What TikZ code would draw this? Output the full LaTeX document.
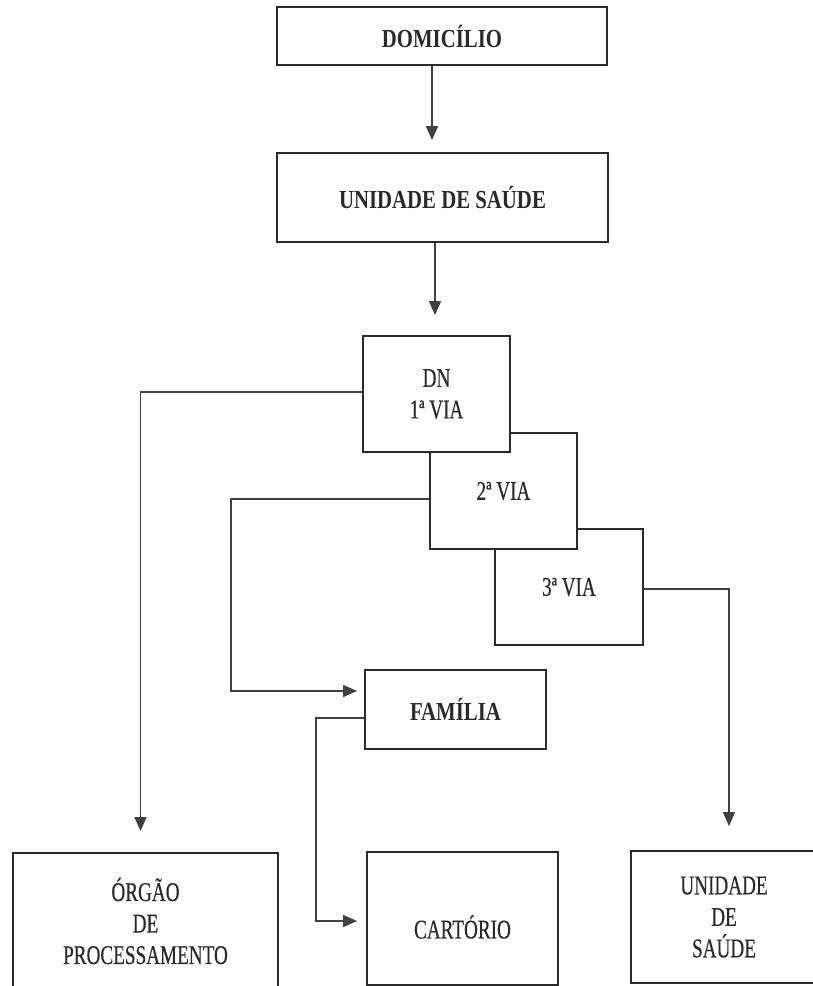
\documentclass[tikz,border=0pt]{standalone}
\usepackage{fontspec}
\setmainfont{Liberation Serif}
\newfontfamily\narrowserif{Liberation Serif}[FakeStretch=0.71,FakeBold=0.4]
\newfontfamily\narrowbold{Liberation Serif Bold}[FakeStretch=0.8]
\usetikzlibrary{arrows.meta}
\definecolor{ink}{HTML}{2A2A2A}
\definecolor{wire}{HTML}{404040}
\begin{document}
\begin{tikzpicture}[x=1pt,y=-1pt,
  box/.style={draw=ink, line width=1.8pt, fill=white, inner sep=0pt, align=center, text=ink},
  headbox/.style={box, font=\narrowbold\fontsize{26}{30}\selectfont},
  copybox/.style={box, font=\narrowserif\fontsize{27}{31.5}\selectfont},
  plaintext/.style={inner sep=0pt, align=center, text=ink, font=\narrowserif\fontsize{27}{31.5}\selectfont},
  arr/.style={draw=wire, line width=1.3pt, -{Triangle[width=12pt,length=14pt]}},
]
\useasboundingbox (0,0) rectangle (813,986);

% top of the flow
\node[headbox, minimum width=330pt, minimum height=58pt] (dom) at (442,36) {DOMICÍLIO};
\node[headbox, minimum width=331pt, minimum height=89pt] (us1) at (442.5,197.5) {UNIDADE DE SAÚDE};

% the three copies of the DN, stacked (later ones lie on top)
\node[copybox, minimum width=148pt, minimum height=116pt] (v3) at (569,587) {3ª VIA};
\node[copybox, minimum width=147pt, minimum height=116pt] (v2) at (503.5,491) {2ª VIA};
\node[copybox, minimum width=147pt, minimum height=116pt] (v1) at (436.5,394) {DN\\1ª VIA};

\node[headbox, minimum width=181pt, minimum height=79pt] (fam) at (455.5,709.5) {FAMÍLIA};

% destinations
\node[copybox, minimum width=265pt, minimum height=136pt] (org) at (145.5,921) {ÓRGÃO\\DE\\PROCESSAMENTO};
\node[box, minimum width=191pt, minimum height=133pt] (cart) at (462.5,918.5) {};
\node[plaintext] (cartlbl) at (462.5,927) {CARTÓRIO};
\node[copybox, minimum width=186pt, minimum height=132pt] (us2) at (724,917) {UNIDADE\\DE\\SAÚDE};

% connectors
\draw[arr, shorten >=12pt] ([xshift=-10pt]dom.south) -- ([xshift=-10pt]dom.south |- us1.north);
\draw[arr, shorten >=20pt] ([xshift=-1.5pt]v1.north |- us1.south) -- ([xshift=-1.5pt]v1.north);
\draw[arr, shorten >=21pt] ([yshift=2pt]v1.west) -| ([xshift=-5pt]org.north);
\draw[arr, shorten >=7pt] ([yshift=-8pt]v2.west) -- ++(-198,0) |- ([yshift=18.5pt]fam.west);
\draw[arr, shorten >=24pt] ([yshift=-2pt]v3.east) -| ([xshift=5pt]us2.north);
\draw[arr, shorten >=9pt] ([yshift=-8.5pt]fam.west) -- ++(-48,0) |- ([yshift=-2.5pt]cart.west);
\end{tikzpicture}
\end{document}
